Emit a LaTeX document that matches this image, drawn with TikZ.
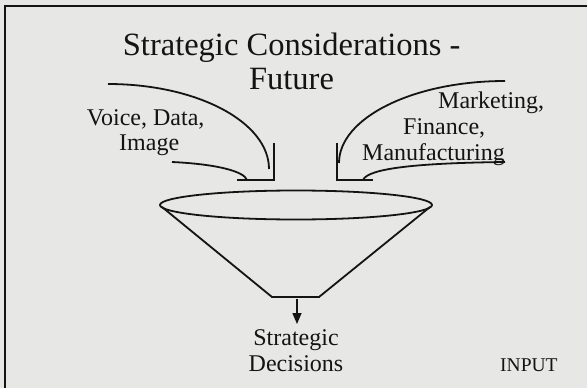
\documentclass[tikz,border=0pt]{standalone}
\usepackage{fontspec}
\setmainfont{Liberation Serif}
\usetikzlibrary{arrows.meta}
\definecolor{slidebg}{RGB}{231,231,229}
\definecolor{ink}{RGB}{20,20,20}
\begin{document}
\begin{tikzpicture}[x=1pt,y=-1pt,
  stroke/.style={draw=ink,line width=1.8pt},
  txt/.style={inner sep=0pt,text=ink,font=\fontsize{24}{26}\selectfont},
  ttl/.style={inner sep=0pt,text=ink,font=\fontsize{32.5}{34}\selectfont}]
  % page and frame
  \fill[slidebg] (0,0) rectangle (587,388);
  \useasboundingbox (0,0) rectangle (587,388);
  \draw[draw=ink,line width=1.8pt] (5,388) -- (5,5.7) -- (587,5.7);

  % title
  \node[ttl,anchor=base] (title1) at (291.7,56) {Strategic Considerations -};
  \node[ttl,anchor=base] (title2) at (291.5,89) {Future};

  % left inflow: chute and guide curves
  \draw[stroke] (108,84) .. controls (197,84) and (269,122) .. (269,169);
  \draw[stroke] (172,162) .. controls (215,164) and (244,171) .. (247,180);
  \draw[stroke] (274,143) -- (274,180) -- (237,180);
  \node[txt,anchor=base west] (voice) at (86.7,125.7) {Voice, Data,};
  \node[txt,anchor=base west] (image) at (119,150) {Image};

  % right inflow: chute and guide curves
  \draw[stroke] (505,81) .. controls (413,81) and (339,118) .. (339,163);
  \draw[stroke] (363,180) .. controls (368,168) and (420,163) .. (505,162);
  \draw[stroke] (337,143) -- (337,180) -- (373,180);
  \node[txt,anchor=base west] (mkt) at (438,108) {Marketing,};
  \node[txt,anchor=base west] (fin) at (403,134) {Finance,};
  \node[txt,anchor=base west] (mfg) at (362,160) {Manufacturing};

  % funnel
  \draw[stroke] (296,205) ellipse [x radius=136, y radius=14.5];
  \draw[stroke,line join=miter] (162,207) -- (272,297) -- (319,297) -- (430,207);

  % outflow
  \coordinate (spout) at (297,299);
  \coordinate (tip) at (297,324);
  \draw[draw=ink,line width=1.5pt,-{Triangle[length=11pt,width=9pt]}] (spout) -- (tip);
  \node[txt,anchor=base] (strat) at (296,345) {Strategic};
  \node[txt,anchor=base] (dec) at (296,371) {Decisions};
  \node[inner sep=0pt,text=ink,font=\fontsize{19.5}{20}\selectfont,anchor=base west] (input) at (500,371.5) {INPUT};
\end{tikzpicture}
\end{document}
